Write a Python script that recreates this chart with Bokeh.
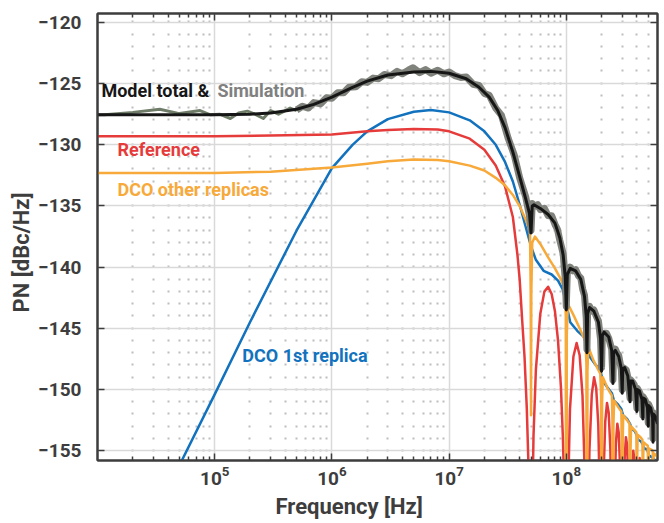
from bokeh.plotting import figure
from bokeh.models import FixedTicker, LogAxis, LinearAxis, Label, Range1d, CustomJSTickFormatter, Title
from bokeh.embed import file_html
from bokeh.resources import INLINE

# ---------------- data ----------------
red_f = [1e4, 1e5, 3e5, 1e6, 2e6, 3e6, 5e6, 8e6, 1e7, 1.5e7, 2e7, 2.5e7, 3e7, 3.5e7, 3.83e7, 4e7, 4.2e7, 4.4e7,
         4.6e7, 4.75e7, 4.9e7, 5e7,
         5.1e7, 5.25e7, 5.5e7, 6e7, 6.5e7, 7e7, 7.5e7, 8e7, 8.5e7, 9e7, 9.35e7, 9.5e7, 9.75e7, 1e8,
         1.025e8, 1.075e8, 1.15e8, 1.225e8, 1.3e8, 1.375e8, 1.45e8, 1.48e8, 1.5e8,
         1.525e8, 1.575e8, 1.65e8, 1.725e8, 1.8e8, 1.875e8, 1.95e8, 2e8,
         2.025e8, 2.075e8, 2.15e8, 2.225e8, 2.3e8, 2.375e8, 2.45e8, 2.5e8,
         2.525e8, 2.575e8, 2.65e8, 2.725e8, 2.8e8, 2.875e8, 2.95e8, 3e8,
         3.025e8, 3.075e8, 3.15e8, 3.225e8, 3.3e8, 3.375e8, 3.45e8, 3.5e8,
         3.575e8, 3.65e8, 3.725e8, 3.8e8, 3.875e8, 3.95e8, 4e8,
         4.075e8, 4.15e8, 4.225e8, 4.3e8, 4.375e8, 4.45e8, 4.5e8,
         4.725e8, 5e8, 5.225e8, 5.5e8, 5.75e8, 6e8]
red_db = [-129.3, -129.3, -129.25, -129.15, -128.9, -128.8, -128.7, -128.75, -128.9, -129.5, -130.4, -131.7, -133.4,
          -135.9, -139.0, -141.0, -144.3, -147.3, -151.5, -156.0, -164.0, -200,
          -161.4, -153.8, -148.4, -143.8, -142.0, -141.6, -142.2, -143.6, -146.0, -149.8, -153.9, -156.4, -162.8, -200,
          -160.4, -151.6, -147.3, -146.2, -147.2, -150.5, -158.3, -166.4, -200,
          -163.9, -155.0, -150.4, -149.0, -149.9, -152.9, -160.6, -200,
          -166.3, -157.3, -152.6, -151.1, -151.9, -154.8, -162.3, -200,
          -168.2, -159.2, -154.4, -152.8, -153.5, -156.3, -163.8, -200,
          -169.4, -160.4, -155.6, -153.9, -154.5, -157.3, -164.6, -200,
          -161.5, -156.7, -155.0, -155.6, -158.4, -165.6, -200,
          -162.5, -157.3, -155.6, -156.2, -159.0, -166.0, -200,
          -156.3, -200, -157.0, -200, -157.7, -200]

orange_f = [1e4, 1e5, 3e5, 1e6, 2e6, 3e6, 5e6, 8e6, 1e7, 1.5e7, 2e7, 2.5e7, 3e7, 3.5e7, 4e7, 4.5e7, 4.9e7, 4.97e7,
            5e7, 5.03e7, 5.12e7, 5.4e7, 6e7, 7e7, 8e7, 9e7, 9.7e7, 9.9e7, 1e8,
            1.01e8, 1.03e8, 1.15e8, 1.3e8, 1.46e8, 1.485e8, 1.5e8,
            1.515e8, 1.54e8, 1.7e8, 1.95e8, 1.98e8, 2e8,
            2.02e8, 2.05e8, 2.25e8, 2.45e8, 2.475e8, 2.5e8,
            2.525e8, 2.56e8, 2.8e8, 2.95e8, 2.97e8, 3e8,
            3.03e8, 3.06e8, 3.3e8, 3.46e8, 3.47e8, 3.5e8,
            3.53e8, 3.57e8, 3.8e8, 3.96e8, 3.98e8, 4e8,
            4.02e8, 4.06e8, 4.3e8, 4.46e8, 4.48e8, 4.5e8,
            4.52e8, 4.56e8, 4.8e8, 4.96e8, 4.98e8, 5e8,
            5.02e8, 5.06e8, 5.3e8, 5.46e8, 5.48e8, 5.5e8,
            5.52e8, 5.56e8, 6e8]
orange_db = [-132.3, -132.3, -132.2, -131.85, -131.55, -131.35, -131.2, -131.25, -131.35, -131.7, -132.1, -132.7,
             -133.3, -134.1, -135.0, -136.1, -137.1, -142.0,
             -152.1, -142.0, -138.0, -137.5, -138.1, -139.2, -140.1, -141.0, -141.8, -144.0, -200,
             -145.5, -143.0, -143.9, -145.0, -146.1, -148.0, -200,
             -148.5, -146.5, -147.6, -148.7, -150.5, -200,
             -151.0, -149.0, -149.9, -150.5, -152.5, -200,
             -152.8, -150.9, -151.5, -151.8, -154.0, -200,
             -154.2, -152.1, -152.5, -152.8, -155.0, -200,
             -155.2, -153.0, -153.3, -153.5, -156.0, -200,
             -156.0, -153.7, -153.9, -154.1, -156.5, -200,
             -156.6, -154.3, -154.5, -154.6, -157.0, -200,
             -157.0, -154.8, -154.9, -155.0, -157.5, -200,
             -157.5, -155.2, -155.5]

blue_f = [5e4, 1e5, 2e5, 5e5, 1e6, 1.5e6, 2e6, 3e6, 5e6, 7e6, 1e7, 1.5e7, 2e7, 2.5e7, 3e7, 3.5e7, 4e7, 4.5e7,
          5e7, 5.5e7, 6.4e7, 7.5e7, 8.5e7, 9.3e7, 1e8, 1.08e8, 1.24e8, 1.41e8, 1.5e8, 1.58e8, 1.75e8, 1.95e8,
          2.05e8, 2.23e8, 2.45e8, 2.55e8, 2.75e8, 2.95e8, 3.05e8, 3.3e8, 3.5e8, 3.6e8, 3.85e8, 4e8, 4.1e8,
          4.35e8, 4.5e8, 4.6e8, 4.9e8, 5e8, 5.1e8, 5.5e8, 6e8]
blue_db = [-156.2, -150.4, -144.5, -137.0, -131.9, -130.0, -128.9, -127.9, -127.3, -127.15, -127.35, -128.0, -128.9,
           -130.0, -131.4, -133.0, -134.9, -136.7,
           -138.3, -139.4, -140.3, -140.6, -141.1, -141.8, -143.0, -144.5, -145.2, -145.7, -146.4, -147.3, -147.9,
           -148.4, -149.3, -149.8, -150.3, -150.9, -151.2, -151.6, -152.1, -152.4, -152.8, -153.2, -153.4, -153.8,
           -154.1, -154.25, -154.5, -154.8, -154.9, -155.2, -155.4, -155.6, -156.0]

total_f = [1e4, 1e5, 2e5, 3e5, 5e5, 7e5, 1e6, 1.5e6, 2e6, 3e6, 5e6, 7e6, 1e7, 1.4e7, 1.8e7, 2.2e7, 2.6e7, 3e7,
           3.5e7, 4e7, 4.5e7, 4.85e7, 5e7, 5.12e7, 5.3e7, 6e7, 7e7, 8e7, 8.8e7, 9.4e7, 9.8e7, 1e8,
           1.02e8, 1.08e8, 1.2e8, 1.33e8, 1.43e8, 1.48e8, 1.5e8,
           1.52e8, 1.58e8, 1.72e8, 1.88e8, 1.96e8, 2e8,
           2.03e8, 2.1e8, 2.3e8, 2.44e8, 2.5e8,
           2.53e8, 2.62e8, 2.8e8, 2.95e8, 3e8,
           3.03e8, 3.15e8, 3.35e8, 3.5e8,
           3.53e8, 3.68e8, 3.9e8, 4e8,
           4.03e8, 4.2e8, 4.42e8, 4.5e8,
           4.53e8, 4.72e8, 4.93e8, 5e8,
           5.03e8, 5.25e8, 5.45e8, 5.5e8,
           5.53e8, 5.75e8, 6e8]
total_db = [-127.55, -127.55, -127.5, -127.4, -127.1, -126.7, -126.1, -125.3, -124.8, -124.3, -124.05, -124.0,
            -124.15, -124.6, -125.3, -126.1, -127.2, -128.6,
            -130.6, -132.6, -134.4, -135.6, -137.2, -135.0, -134.9, -135.2, -135.7, -136.4, -137.6, -139.0, -140.8,
            -143.5,
            -140.6, -140.1, -140.3, -141.0, -142.4, -144.0, -147.0,
            -143.8, -143.3, -143.6, -144.5, -145.8, -148.5,
            -145.6, -145.3, -145.7, -146.8, -149.5,
            -147.0, -146.8, -147.3, -148.3, -150.3,
            -148.3, -148.2, -148.9, -151.0,
            -149.3, -149.3, -150.0, -151.8,
            -150.0, -150.1, -150.8, -152.4,
            -150.7, -150.8, -151.5, -153.0,
            -151.3, -151.5, -152.3, -154.3,
            -152.0, -152.2, -152.8]

sim_lo_f = [1e4, 1.15e4, 2e4, 3.4e4, 5e4, 7.5e4, 9.2e4, 1.1e5, 1.36e5, 1.6e5, 1.9e5, 2.2e5, 2.6e5, 3e5, 3.5e5,
            4.4e5, 5e5]
sim_lo_db = [-127.55, -127.55, -127.35, -127.1, -127.45, -127.2, -127.55, -127.5, -127.85, -127.4, -127.25, -127.5,
             -127.85, -127.2, -127.5, -127.0, -127.2]

sim_f = [5e5, 5.6e5, 6.3e5, 7e5, 8e5, 9e5, 1e6, 1.12e6, 1.26e6, 1.4e6, 1.6e6, 1.8e6, 2e6, 2.25e6, 2.5e6, 2.8e6,
         3.2e6, 3.6e6, 4e6, 4.5e6, 4.9e6, 5.6e6, 6.3e6, 7e6, 8e6, 9e6, 1e7, 1.12e7, 1.26e7, 1.4e7, 1.6e7, 1.8e7,
         2e7, 2.2e7, 2.5e7, 2.8e7, 3.2e7, 3.6e7, 4e7, 4.5e7, 4.85e7,
         5e7, 5.12e7, 5.3e7, 5.7e7, 6e7, 6.5e7, 7e7, 7.5e7, 8e7, 8.4e7, 8.8e7, 9.4e7, 9.8e7, 1e8,
         1.02e8, 1.05e8, 1.08e8, 1.14e8, 1.2e8, 1.27e8, 1.33e8, 1.38e8, 1.43e8, 1.48e8, 1.5e8,
         1.52e8, 1.58e8, 1.65e8, 1.72e8, 1.8e8, 1.88e8, 1.96e8, 2e8,
         2.03e8, 2.1e8, 2.2e8, 2.3e8, 2.44e8, 2.5e8,
         2.53e8, 2.62e8, 2.7e8, 2.8e8, 2.95e8, 3e8,
         3.03e8, 3.15e8, 3.25e8, 3.35e8, 3.5e8,
         3.53e8, 3.68e8, 3.8e8, 3.9e8, 4e8,
         4.03e8, 4.2e8, 4.42e8, 4.5e8,
         4.53e8, 4.72e8, 4.93e8, 5e8,
         5.03e8, 5.25e8, 5.45e8, 5.5e8,
         5.53e8, 5.75e8, 6e8]
sim_db = [-127.15, -126.85, -127.0, -126.55, -126.65, -126.15, -126.2, -125.75, -125.75, -125.3, -125.25, -124.85,
          -124.9, -124.55, -124.6, -124.25, -124.35, -124.0, -124.2, -123.9, -123.7, -124.1, -123.85, -124.15,
          -123.9, -124.2, -124.05, -124.35, -124.5, -124.45, -125.05, -125.15, -125.8, -125.95, -127.0, -127.6,
          -129.5, -130.85, -132.7, -134.25, -135.8,
          -137.0, -134.8, -135.05, -134.9, -135.3, -135.2, -135.8, -135.8, -136.5, -136.9, -137.8, -138.9, -141.0,
          -143.2,
          -140.4, -140.3, -140.0, -140.3, -140.2, -140.7, -140.9, -141.8, -142.3, -144.2, -146.7,
          -143.6, -143.2, -143.6, -143.5, -144.0, -144.4, -145.9, -148.2,
          -145.5, -145.4, -145.4, -145.8, -146.7, -149.2,
          -146.9, -146.7, -147.0, -147.2, -148.4, -150.0,
          -148.2, -148.3, -148.4, -149.0, -150.7,
          -149.2, -149.4, -149.6, -150.1, -151.5,
          -149.9, -150.2, -150.7, -152.1,
          -150.6, -150.9, -151.4, -152.7,
          -151.2, -151.6, -152.2, -154.0,
          -151.9, -152.3, -152.7]

x_major = [1e5, 1e6, 1e7, 1e8]
y_major = [-155, -150, -145, -140, -135, -130, -125, -120]

# ---------------- styling ----------------
FONT = "Roboto"
AX = "#3d3d3d"
RED = "#e63b3b"
ORANGE = "#f7a93a"
BLUE = "#1272be"
BLACK = "#161616"

p = figure(frame_width=560, frame_height=447, x_axis_type="log",
           x_range=Range1d(1e4, 6e8), y_range=Range1d(-155.8, -119.27),
           output_backend="svg", toolbar_location=None,
           min_border_left=97, min_border_right=2, min_border_top=13, min_border_bottom=6,
           background_fill_color="white", border_fill_color="white",
           outline_line_color=AX, outline_line_width=2)

bx = p.below[0]
ly = p.left[0]

x_minor = [m * 10 ** d for d in range(4, 9) for m in range(2, 10) if m * 10 ** d < 6e8]
xt = FixedTicker(ticks=x_major, minor_ticks=x_minor)
yt = FixedTicker(ticks=y_major, minor_ticks=[])

blank = CustomJSTickFormatter(code="return ' '")
top_axis = LogAxis(ticker=xt, formatter=blank)
right_axis = LinearAxis(ticker=yt, formatter=blank)
p.add_layout(top_axis, "above")
p.add_layout(right_axis, "right")

for ax in (bx, ly, top_axis, right_axis):
    ax.axis_line_color = AX
    ax.axis_line_width = 2
    ax.major_tick_line_color = AX
    ax.major_tick_line_width = 1.5
    ax.minor_tick_line_color = AX
    ax.minor_tick_line_width = 1.5
    ax.major_tick_in = 7
    ax.major_tick_out = 0
    ax.minor_tick_out = 0
    ax.major_label_text_font = FONT
    ax.major_label_text_font_style = "bold"
    ax.major_label_text_font_size = "19px"
    ax.major_label_text_color = AX

for ax in (bx, top_axis):
    ax.ticker = xt
    ax.minor_tick_in = 4
for ax in (ly, right_axis):
    ax.ticker = yt
    ax.minor_tick_in = 0

for ax in (top_axis, right_axis):
    ax.major_label_text_font_size = "1px"
    ax.major_label_text_alpha = 0
    ax.major_label_standoff = 0

bx.major_label_standoff = 5
ly.major_label_standoff = 16

# axis titles, placed as in the reference (offset from the frame's left / bottom corner)
p.add_layout(Title(text="Frequency [Hz]", align="left", offset=178, standoff=8, text_font=FONT,
                   text_font_style="bold", text_font_size="22px", text_color=AX), "below")
p.add_layout(Title(text="PN [dBc/Hz]", align="left", offset=148, standoff=4, text_font=FONT,
                   text_font_style="bold", text_font_size="22px", text_color=AX), "left")

p.xgrid.ticker = xt
p.ygrid.ticker = yt
p.xgrid.grid_line_color = "#d9d9d9"
p.xgrid.grid_line_width = 1.5
p.ygrid.grid_line_color = "#d9d9d9"
p.ygrid.grid_line_width = 1.5
p.xgrid.minor_grid_line_color = "#bdbdbd"
p.xgrid.minor_grid_line_width = 2
p.xgrid.minor_grid_line_dash = "2 10 2 10 2 10 2 11"
p.xgrid.minor_grid_line_dash_offset = 3

# ---------------- curves ----------------
p.line(blue_f, blue_db, line_color=BLUE, line_width=2.5, line_join="round")
p.line(red_f, red_db, line_color=RED, line_width=2.5, line_join="round")
p.line(orange_f, orange_db, line_color=ORANGE, line_width=2.5, line_join="round")
p.line(sim_lo_f, sim_lo_db, line_color="#6f7d68", line_width=3, line_join="round")
p.line(sim_f, sim_db, line_color="#7f837c", line_width=7, line_join="round")
p.line(total_f, total_db, line_color=BLACK, line_width=3, line_join="round")

# ---------------- annotations ----------------
def lab(x, y, text, color):
    p.add_layout(Label(x=x, y=y, text=text, text_color=color, text_font=FONT, text_font_style="bold",
                       text_font_size="18px", text_baseline="middle", text_align="left"))

lab(1.08e4, -125.6, "Model total &", BLACK)
lab(1.055e5, -125.6, "Simulation", "#808080")
lab(1.48e4, -130.35, "Reference", RED)
lab(1.48e4, -133.65, "DCO other replicas", ORANGE)
lab(1.72e5, -147.18, "DCO 1st replica", BLUE)

open("out.html", "w").write(file_html(p, INLINE))
